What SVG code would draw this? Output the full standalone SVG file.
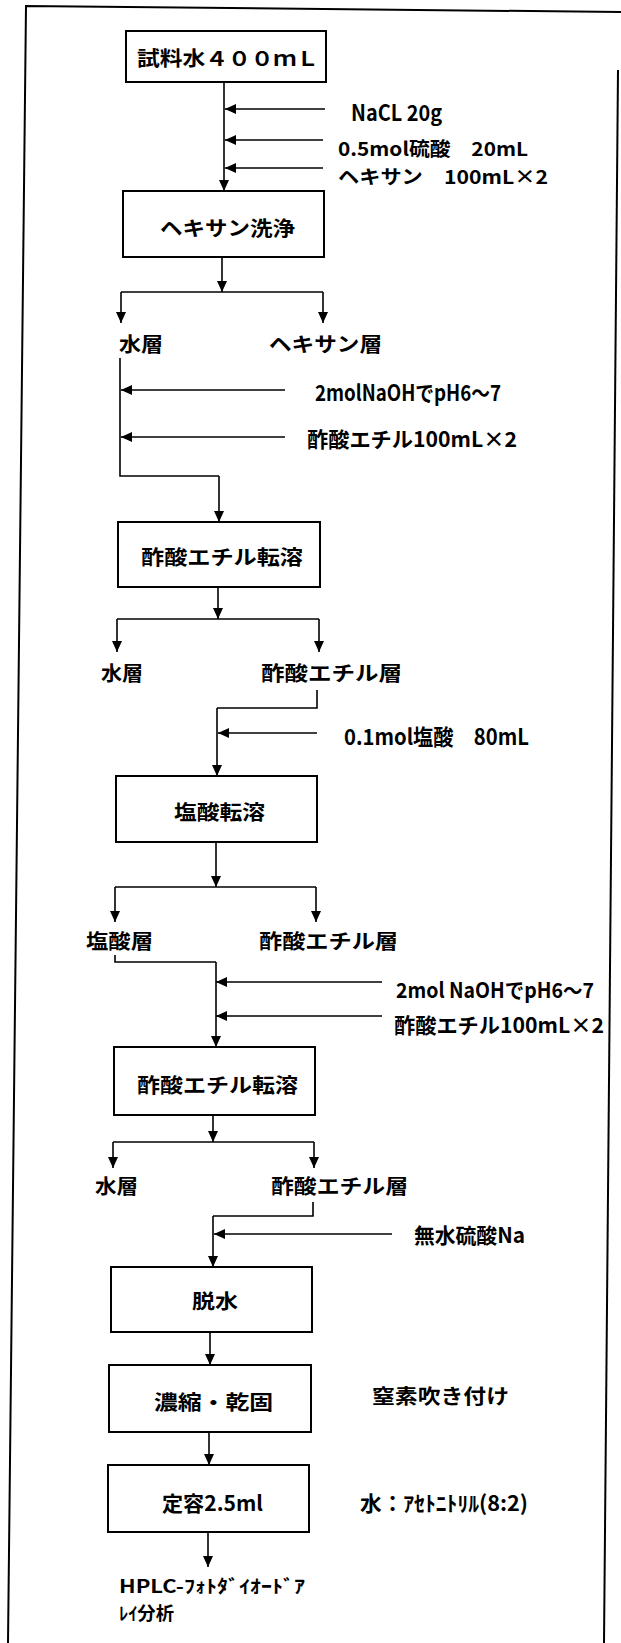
<svg xmlns="http://www.w3.org/2000/svg" width="621" height="1643" viewBox="0 0 621 1643">
<style>
.bg{fill:#ffffff}
.frame{fill:none;stroke:#000;stroke-width:2}
.box{fill:#fff;stroke:#000;stroke-width:2}
.ln{fill:none;stroke:#000;stroke-width:1.6}
.ar{fill:none;stroke:#000;stroke-width:1.6;marker-end:url(#ah)}
text{font-family:"Noto Sans CJK JP","Noto Sans CJK SC",sans-serif;font-size:20px;font-weight:700;fill:#000;dominant-baseline:central}
.s22{font-size:22px}
.s21{font-size:21px}
.s19{font-size:19px}
.s18{font-size:18px}
</style>
<defs>
<marker id="ah" markerUnits="userSpaceOnUse" markerWidth="12" markerHeight="11" refX="11" refY="5" orient="auto">
<path d="M0,0 L11,5 L0,10 Z" fill="#000"/>
</marker>
</defs>
<rect class="bg" x="0" y="0" width="621" height="1643"/>
<g id="frame">
<path class="frame" d="M8,1643 L26,6 L621,12"/>
<path class="frame" d="M618,70 L604,1643"/>
</g>
<g id="connectors">
<path class="ar" d="M224,82 V191"/>
<path class="ar" d="M325,109 H225"/>
<path class="ar" d="M323,140 H225"/>
<path class="ar" d="M323,168 H225"/>
<path class="ar" d="M222,257 V292"/>
<path class="ln" d="M121,292 H323"/>
<path class="ar" d="M121,292 V323"/>
<path class="ar" d="M323,292 V323"/>
<path class="ln" d="M120,358 V476 H219"/>
<path class="ar" d="M219,476 V522"/>
<path class="ar" d="M285,390 H121"/>
<path class="ar" d="M285,437 H121"/>
<path class="ar" d="M218,587 V619"/>
<path class="ln" d="M117,619 H319"/>
<path class="ar" d="M117,619 V652"/>
<path class="ar" d="M319,619 V652"/>
<path class="ln" d="M317,690 V708 H217"/>
<path class="ar" d="M217,708 V776"/>
<path class="ar" d="M317,733 H218"/>
<path class="ar" d="M216,842 V887"/>
<path class="ln" d="M115,887 H316"/>
<path class="ar" d="M115,887 V922"/>
<path class="ar" d="M316,887 V922"/>
<path class="ln" d="M115,955 V962 H216"/>
<path class="ar" d="M216,962 V1047"/>
<path class="ar" d="M382,982 H216"/>
<path class="ar" d="M382,1016 H216"/>
<path class="ar" d="M213,1115 V1142"/>
<path class="ln" d="M113,1142 H314"/>
<path class="ar" d="M113,1142 V1168"/>
<path class="ar" d="M314,1142 V1168"/>
<path class="ln" d="M313,1202 V1216 H213"/>
<path class="ar" d="M213,1216 V1267"/>
<path class="ar" d="M392,1234 H214"/>
<path class="ar" d="M210,1332 V1365"/>
<path class="ar" d="M209,1432 V1465"/>
<path class="ar" d="M208,1532 V1567"/>
</g>
<g id="n_sample"><rect class="box" x="126" y="31" width="200" height="51"/><text x="137" y="57" textLength="182" lengthAdjust="spacingAndGlyphs">試料水４００ｍＬ</text></g>
<g id="in_nacl"><text class="s22" x="351" y="111" textLength="91" lengthAdjust="spacingAndGlyphs">NaCL 20g</text></g>
<g id="in_h2so4"><text class="s19" x="338" y="147" textLength="190" lengthAdjust="spacingAndGlyphs">0.5mol硫酸　20mL</text></g>
<g id="in_hexane"><text class="s19" x="338" y="175" textLength="210" lengthAdjust="spacingAndGlyphs">ヘキサン　100mL×2</text></g>
<g id="n_hexwash"><rect class="box" x="123" y="191" width="201" height="66"/><text x="160" y="227" textLength="135" lengthAdjust="spacingAndGlyphs">ヘキサン洗浄</text></g>
<g id="n_water1"><text x="119" y="343" textLength="44" lengthAdjust="spacingAndGlyphs">水層</text></g>
<g id="n_hexlayer"><text x="269" y="343" textLength="113" lengthAdjust="spacingAndGlyphs">ヘキサン層</text></g>
<g id="in_naoh1"><text class="s22" x="315" y="391" textLength="186" lengthAdjust="spacingAndGlyphs">2molNaOHでpH6～7</text></g>
<g id="in_etac1"><text class="s21" x="307" y="438" textLength="210" lengthAdjust="spacingAndGlyphs">酢酸エチル100mL×2</text></g>
<g id="n_etac_tr1"><rect class="box" x="118" y="522" width="202" height="65"/><text x="141" y="556" textLength="162" lengthAdjust="spacingAndGlyphs">酢酸エチル転溶</text></g>
<g id="n_water2"><text x="101" y="672" textLength="42" lengthAdjust="spacingAndGlyphs">水層</text></g>
<g id="n_etaclayer1"><text x="261" y="672" textLength="141" lengthAdjust="spacingAndGlyphs">酢酸エチル層</text></g>
<g id="in_hcl"><text class="s22" x="344" y="735" textLength="185" lengthAdjust="spacingAndGlyphs">0.1mol塩酸　80mL</text></g>
<g id="n_hcl_tr"><rect class="box" x="116" y="776" width="201" height="66"/><text x="174" y="811" textLength="91" lengthAdjust="spacingAndGlyphs">塩酸転溶</text></g>
<g id="n_hcllayer"><text x="86" y="940" textLength="67" lengthAdjust="spacingAndGlyphs">塩酸層</text></g>
<g id="n_etaclayer2"><text x="259" y="940" textLength="139" lengthAdjust="spacingAndGlyphs">酢酸エチル層</text></g>
<g id="in_naoh2"><text class="s21" x="396" y="989" textLength="198" lengthAdjust="spacingAndGlyphs">2mol NaOHでpH6～7</text></g>
<g id="in_etac2"><text class="s21" x="394" y="1024" textLength="210" lengthAdjust="spacingAndGlyphs">酢酸エチル100mL×2</text></g>
<g id="n_etac_tr2"><rect class="box" x="114" y="1047" width="201" height="68"/><text x="137" y="1084" textLength="161" lengthAdjust="spacingAndGlyphs">酢酸エチル転溶</text></g>
<g id="n_water3"><text x="95" y="1185" textLength="43" lengthAdjust="spacingAndGlyphs">水層</text></g>
<g id="n_etaclayer3"><text x="271" y="1185" textLength="137" lengthAdjust="spacingAndGlyphs">酢酸エチル層</text></g>
<g id="in_na2so4"><text class="s21" x="414" y="1234" textLength="111" lengthAdjust="spacingAndGlyphs">無水硫酸Na</text></g>
<g id="n_dehyd"><rect class="box" x="111" y="1267" width="201" height="65"/><text x="192" y="1300" textLength="46" lengthAdjust="spacingAndGlyphs">脱水</text></g>
<g id="n_conc"><rect class="box" x="109" y="1365" width="202" height="67"/><text x="154" y="1401" textLength="119" lengthAdjust="spacingAndGlyphs">濃縮・乾固</text></g>
<g id="note_n2"><text x="372" y="1395" textLength="137" lengthAdjust="spacingAndGlyphs">窒素吹き付け</text></g>
<g id="n_vol"><rect class="box" x="108" y="1465" width="201" height="67"/><text class="s21" x="162" y="1502" textLength="101" lengthAdjust="spacingAndGlyphs">定容2.5ml</text></g>
<g id="note_solv"><text class="s21" x="360" y="1502" textLength="168" lengthAdjust="spacingAndGlyphs">水：ｱｾﾄﾆﾄﾘﾙ(8:2)</text></g>
<g id="n_hplc"><text class="s18" x="119" y="1585" textLength="186" lengthAdjust="spacingAndGlyphs">HPLC-ﾌｫﾄﾀﾞｲｵｰﾄﾞｱ</text><text class="s18" x="119" y="1612" textLength="55" lengthAdjust="spacingAndGlyphs">ﾚｲ分析</text></g>
</svg>
